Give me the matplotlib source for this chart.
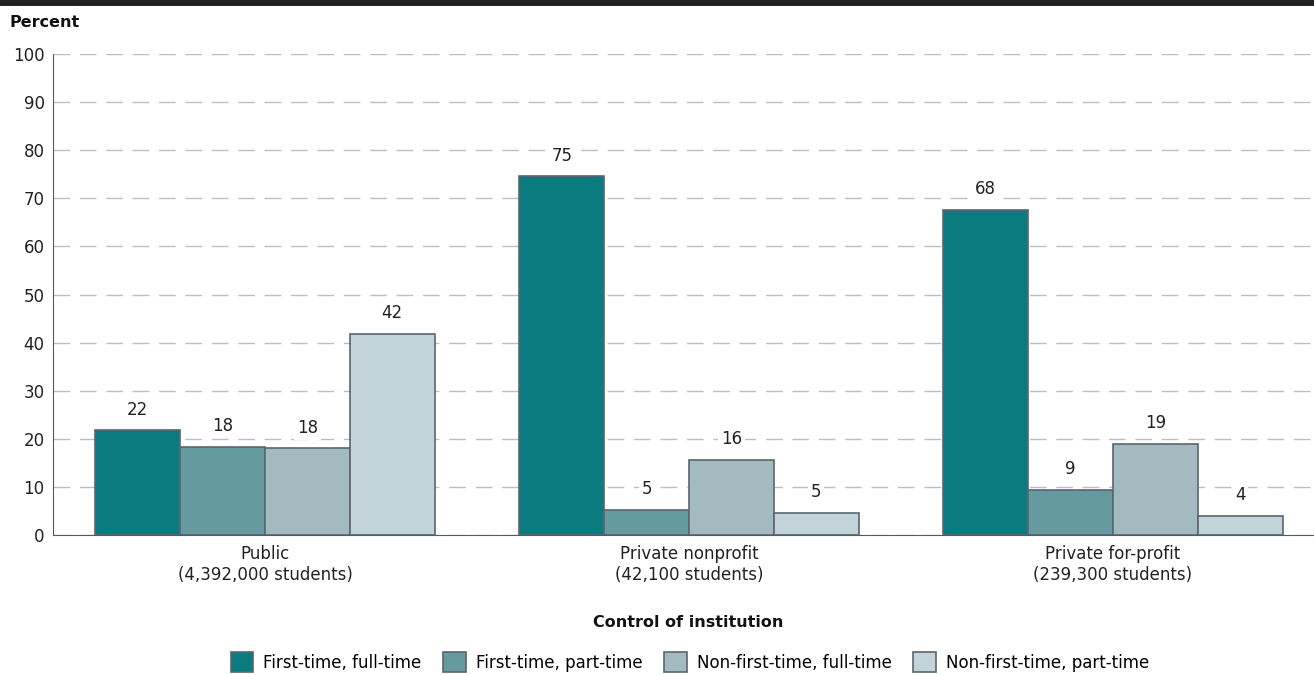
import matplotlib.pyplot as plt
import numpy as np
from matplotlib.patches import Patch

plt.rcParams["font.family"] = ["DejaVu Sans"]

groups = ["Public\n(4,392,000 students)", "Private nonprofit\n(42,100 students)",
          "Private for-profit\n(239,300 students)"]
series = ["First-time, full-time", "First-time, part-time",
          "Non-first-time, full-time", "Non-first-time, part-time"]
first_full = [21.8, 74.6, 67.6]
first_part = [18.4, 5.2, 9.4]
non_full = [18.0, 15.6, 19.0]
non_part = [41.8, 4.6, 4.0]
colors = ["#0a7b7e", "#659a9f", "#a3bbc0", "#c2d4d8"]
edge = "#5b6570"

fig = plt.figure(figsize=(13.14, 6.75), dpi=100)
ax = fig.add_axes([0.0403, 0.2074, 0.9597, 0.7126])

x = np.arange(len(groups))
width = 0.2
for i, vals in enumerate([first_full, first_part, non_full, non_part]):
    pos = x + (i - 1.5) * width
    ax.bar(pos, vals, width, color=colors[i], edgecolor=edge, linewidth=1.2, zorder=3)
    for px, v in zip(pos, vals):
        ax.text(px, v + 2.4, f"{round(v)}", ha="center", va="bottom", fontsize=12,
                color="#222222", zorder=4,
                bbox=dict(facecolor="white", edgecolor="none", pad=2))

ax.set_xlim(-0.5, 2.474)
ax.set_ylim(0, 100)
ax.set_yticks(range(0, 101, 10))
ax.set_xticks(x, groups)
ax.tick_params(axis="both", length=0, labelsize=12, colors="#222222")
ax.tick_params(axis="y", pad=6)
ax.tick_params(axis="x", pad=7)
ax.yaxis.grid(True, linestyle=(0, (12, 7)), color="#bdbacb", linewidth=1, zorder=0)
for s in ["top", "right"]:
    ax.spines[s].set_visible(False)
ax.spines["left"].set_color("#555a66")
ax.spines["bottom"].set_color("#555a66")

fig.text(0.0076, 0.966, "Percent", fontsize=11.5, fontweight="bold", va="center", color="#111111")
fig.text(0.524, 0.078, "Control of institution", fontsize=11.5, fontweight="bold",
         ha="center", va="center", color="#111111")

# barra superior
fig.add_artist(plt.Line2D([0, 1], [0.997, 0.997], color="#222222", linewidth=5,
                          transform=fig.transFigure))

handles = [Patch(facecolor=c, edgecolor=edge, linewidth=1.2) for c in colors]
fig.legend(handles, series, loc="center", bbox_to_anchor=(0.525, 0.019), ncol=4,
           frameon=False, fontsize=12, handlelength=1.35, handleheight=1.5,
           handletextpad=0.6, columnspacing=1.3)

fig.savefig("out.png", dpi=100)
